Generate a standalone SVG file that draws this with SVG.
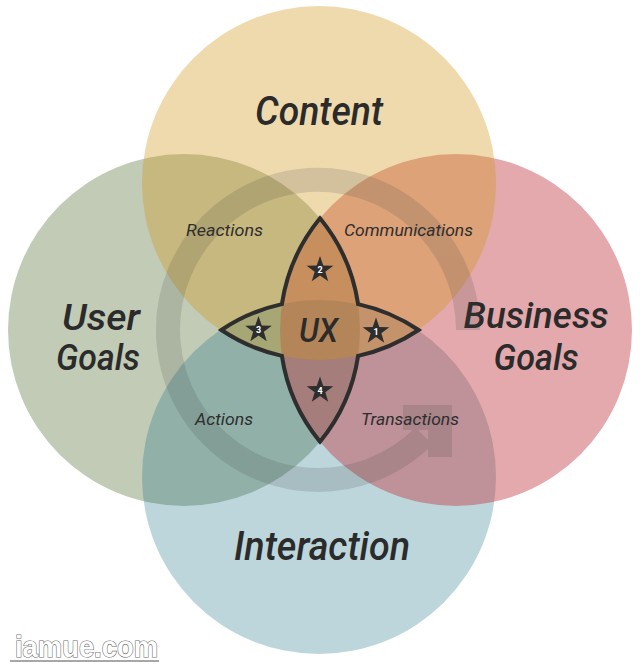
<svg xmlns="http://www.w3.org/2000/svg" xmlns:xlink="http://www.w3.org/1999/xlink" width="640" height="662" viewBox="0 0 640 662">
<style>
.title{font-family:Roboto,"Liberation Sans",sans-serif;font-style:italic;font-weight:500;fill:#2b2b2b;text-anchor:middle}
.big{font-size:40px}
.mid{font-size:36px}
.small{font-family:Roboto,"Liberation Sans",sans-serif;font-style:italic;font-size:16px;fill:#2e2e2e;text-anchor:middle}
.num{font-family:Roboto,"Liberation Sans",sans-serif;font-size:9px;font-weight:bold;fill:#ffffff;text-anchor:middle}
.star{fill:#2e2e2e}
</style>
<defs>
<path id="star" d="M0,-14 L3.29,-4.53 L13.32,-4.33 L5.33,1.73 L8.23,11.33 L0,5.6 L-8.23,11.33 L-5.33,1.73 L-13.32,-4.33 L-3.29,-4.53 Z"/>
</defs>
<rect width="640" height="662" fill="#ffffff"/>
<g id="user-goals">
<circle cx="184" cy="330" r="176" fill="#83976d" fill-opacity="0.5"/>
<text class="title mid" x="101" y="330" textLength="78" lengthAdjust="spacingAndGlyphs">User</text>
<text class="title mid" x="98" y="370" textLength="84" lengthAdjust="spacingAndGlyphs">Goals</text>
</g>
<g id="interaction">
<circle cx="319" cy="477" r="177" fill="#237687" fill-opacity="0.3"/>
<text class="title big" x="322" y="560" textLength="176" lengthAdjust="spacingAndGlyphs">Interaction</text>
</g>
<g id="business-goals">
<circle cx="456" cy="330" r="176" fill="#bf3b42" fill-opacity="0.44"/>
<text class="title mid" x="536" y="328" textLength="145" lengthAdjust="spacingAndGlyphs">Business</text>
<text class="title mid" x="536" y="370" textLength="85" lengthAdjust="spacingAndGlyphs">Goals</text>
</g>
<g id="content">
<circle cx="319" cy="183" r="177" fill="#d19517" fill-opacity="0.35"/>
<text class="title big" x="319" y="125" textLength="128" lengthAdjust="spacingAndGlyphs">Content</text>
</g>
<g id="connectors" opacity="0.16">
<path d="M468,330 A150,150 0 1 0 424,436" fill="none" stroke="#404040" stroke-width="24"/>
<polygon points="403,405 452,405 452,457 428,457 428,430 403,430" fill="#404040"/>
</g>
<g id="overlap-labels">
<text class="small" x="224.5" y="236" textLength="77" lengthAdjust="spacingAndGlyphs">Reactions</text>
<text class="small" x="408.5" y="236" textLength="129" lengthAdjust="spacingAndGlyphs">Communications</text>
<text class="small" x="224" y="425" textLength="58" lengthAdjust="spacingAndGlyphs">Actions</text>
<text class="small" x="410" y="425" textLength="98" lengthAdjust="spacingAndGlyphs">Transactions</text>
</g>
<g id="ux">
<path d="M320,218.3 A176,176 0 0 1 358.1,304.15 A177,177 0 0 1 418.6,330 A177,177 0 0 1 358.1,355.85 A176,176 0 0 1 320,441.7 A176,176 0 0 1 281.9,355.85 A177,177 0 0 1 221.4,330 A177,177 0 0 1 281.9,304.15 A176,176 0 0 1 320,218.3 Z" fill="none" stroke="#2e2e2e" stroke-width="4" stroke-linejoin="miter" stroke-miterlimit="20"/>
<text class="title" x="318.5" y="341.5" font-size="33" font-weight="bold" textLength="39" lengthAdjust="spacingAndGlyphs">UX</text>
<g id="star-1"><use xlink:href="#star" href="#star" x="376" y="331.5" class="star"/><text class="num" x="376" y="334.5">1</text></g>
<g id="star-2"><use xlink:href="#star" href="#star" x="320" y="270" class="star"/><text class="num" x="320" y="273">2</text></g>
<g id="star-3"><use xlink:href="#star" href="#star" x="258.5" y="330" class="star"/><text class="num" x="258.5" y="333">3</text></g>
<g id="star-4"><use xlink:href="#star" href="#star" x="320" y="390.5" class="star"/><text class="num" x="320" y="393.5">4</text></g>
</g>
<g id="watermark">
<line x1="10" y1="661" x2="159" y2="661" stroke="#8a8a8a" stroke-width="1.5"/>
<text x="15" y="657" font-family="'Liberation Sans',sans-serif" font-weight="bold" font-size="30" textLength="143" lengthAdjust="spacingAndGlyphs" fill="#ffffff" stroke="#6a6a6a" stroke-width="1.2" paint-order="stroke">iamue.com</text>
</g>
</svg>
